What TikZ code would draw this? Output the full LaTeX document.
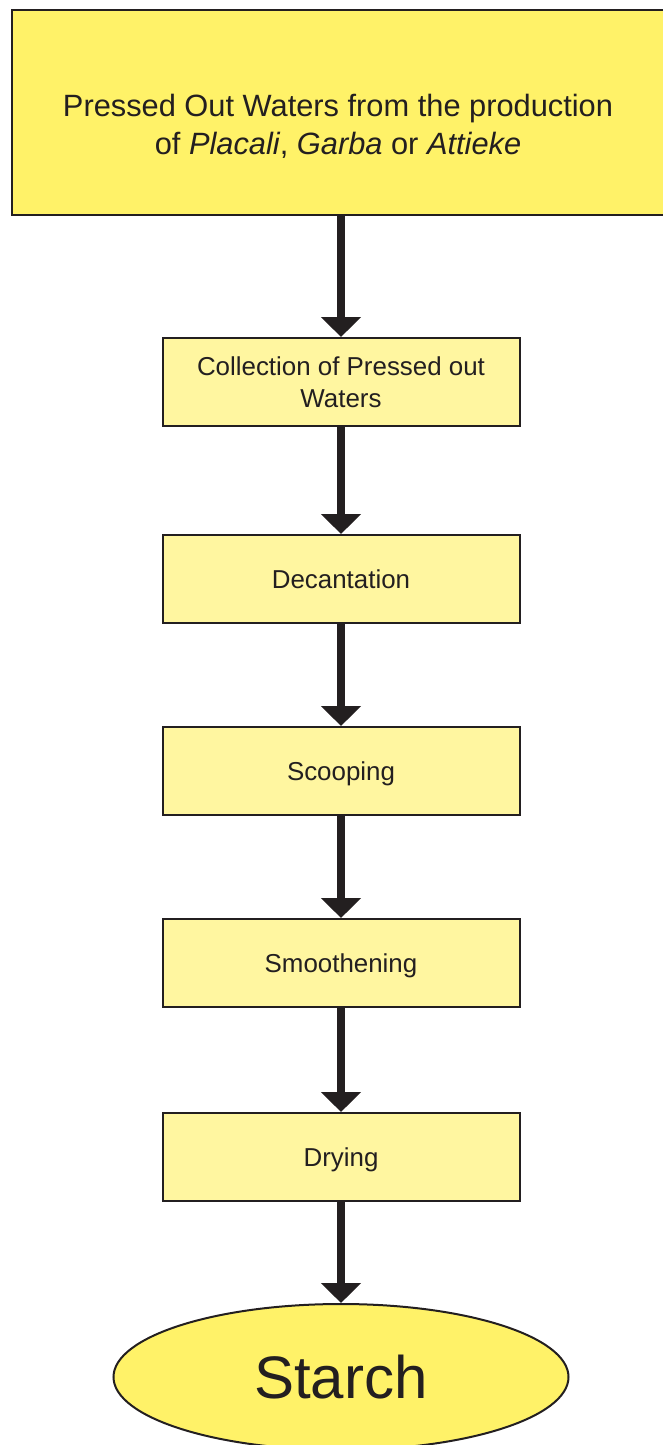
\documentclass[tikz,border=0pt]{standalone}
\usepackage{fontspec}
\setmainfont{Liberation Sans}
\usetikzlibrary{calc,shapes.geometric,arrows.meta}
\definecolor{ink}{HTML}{231F20}
\definecolor{deepyel}{HTML}{FFF268}
\definecolor{paleyel}{HTML}{FFF6A0}
\begin{document}
\begin{tikzpicture}[x=1pt,y=-1pt,
    srcbox/.style={draw=ink,line width=2pt,fill=deepyel,minimum width=658pt,minimum height=205pt,inner sep=0pt},
    stepbox/.style={draw=ink,line width=2pt,fill=paleyel,minimum width=357pt,minimum height=88pt,inner sep=0pt,
      align=center,text=ink,font=\fontsize{25.9}{32}\selectfont},
    oneline/.style={text depth=0pt},twoline/.style={},
    flow/.style={draw=ink,line width=7.5pt,-{Triangle[width=39pt,length=20pt]}}]
      \useasboundingbox(0,0)rectangle(663,1445);
      \node[srcbox](src)at(341,112.5){};
      \node[align=center,text=ink,font=\fontsize{30.8}{37.5}\selectfont](srctext)at(338,126.5)
        {Pressed Out Waters from the production\\of \textit{Placali}, \textit{Garba} or \textit{Attieke}};
      \foreach \n/\y/\t/\o in{coll/382/{Collection of Pressed out\\Waters}/twoline,dec/579/Decantation/oneline,
        scoop/771/Scooping/oneline,smooth/963/Smoothening/oneline,dry/1157/Drying/oneline}{
        \node[stepbox,\o](\n)at(341,\y){\t};
      }
      \node[ellipse,draw=ink,line width=2pt,fill=deepyel,minimum width=455pt,minimum height=146pt,inner sep=0pt,
        text=ink,font=\fontsize{60}{72}\selectfont](starch)at(341,1377){Starch};
      \foreach \a/\b in{src/coll,coll/dec,dec/scoop,scoop/smooth,smooth/dry,dry/starch}{
        \draw[flow](\a)--(\b);
      }
    \end{tikzpicture}
\end{document}
